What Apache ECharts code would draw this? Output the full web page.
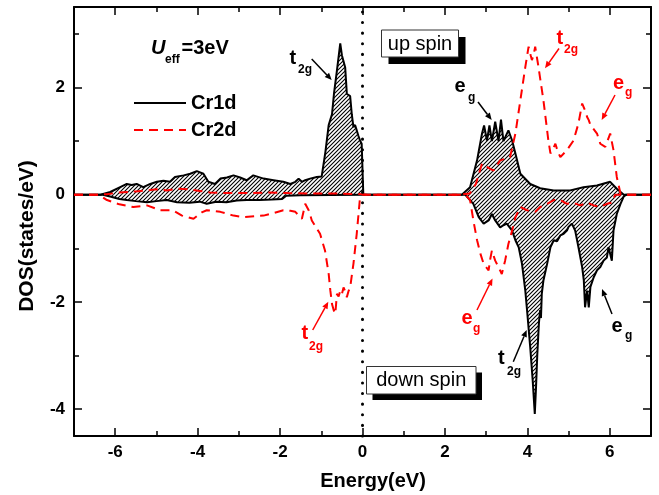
<!DOCTYPE html>
<html><head><meta charset="utf-8">
<script src="https://cdn.jsdelivr.net/npm/echarts@6/dist/echarts.min.js"></script>
<style>html,body{margin:0;padding:0;background:#fff}#c{width:659px;height:495px}</style>
</head><body><div id="c"></div>
<script>
// ---- data ----
const xTickLabels = [-6, -4, -2, 0, 2, 4, 6];
const xMinorTicks = [-5, -3, -1, 1, 3, 5];
const yTickLabels = [-4, -2, 0, 2];
const yMinorTicks = [-3, -1, 1, 3];
const seriesNames = ['Cr1d', 'Cr2d'];

const cr1dUp = [[-7,0],[-6.36,0],[-6.12,0.05],[-5.88,0.14],[-5.72,0.2],[-5.6,0.18],[-5.48,0.2],[-5.32,0.14],[-5.15,0.2],[-4.99,0.24],[-4.83,0.26],[-4.67,0.24],[-4.55,0.33],[-4.34,0.36],[-4.18,0.39],[-4.02,0.44],[-3.86,0.39],[-3.74,0.24],[-3.58,0.2],[-3.45,0.3],[-3.29,0.32],[-3.13,0.36],[-2.97,0.32],[-2.81,0.27],[-2.65,0.36],[-2.4,0.3],[-2.16,0.27],[-1.92,0.24],[-1.75,0.2],[-1.63,0.24],[-1.55,0.3],[-1.47,0.24],[-1.39,0.27],[-1.27,0.3],[-1.11,0.33],[-0.99,0.34],[-0.9,0.8],[-0.82,1.3],[-0.78,1.4],[-0.74,1.5],[-0.69,1.9],[-0.62,2.32],[-0.54,2.82],[-0.5,2.6],[-0.42,2.37],[-0.38,1.88],[-0.34,1.9],[-0.3,1.84],[-0.26,1.5],[-0.22,1.26],[-0.18,1.3],[-0.14,1.2],[-0.1,1.1],[-0.06,1.01],[-0.02,0.95],[0.02,0],[2.41,0],[2.61,0.14],[2.78,0.64],[2.9,1.14],[2.95,1.29],[3.02,1.01],[3.08,1.29],[3.14,1.0],[3.22,1.36],[3.3,1.0],[3.36,1.4],[3.42,1.0],[3.54,1.2],[3.63,1.01],[3.71,0.77],[3.83,0.39],[4.07,0.2],[4.31,0.12],[4.64,0.08],[5.04,0.08],[5.36,0.14],[5.69,0.17],[6.01,0.24],[6.17,0.11],[6.34,0],[7,0]];

const cr1dDown = [[-7,0],[-6.3,0],[-6.1,-0.04],[-5.9,-0.08],[-5.72,-0.1],[-5.5,-0.12],[-5.23,-0.14],[-5.0,-0.12],[-4.75,-0.1],[-4.5,-0.14],[-4.2,-0.15],[-3.95,-0.13],[-3.78,-0.17],[-3.55,-0.13],[-3.3,-0.14],[-3.05,-0.11],[-2.81,-0.1],[-2.5,-0.1],[-2.2,-0.09],[-1.95,-0.08],[-1.85,-0.02],[-1.5,-0.01],[0,0],[2.49,0],[2.69,-0.17],[2.82,-0.42],[2.94,-0.54],[3.06,-0.48],[3.14,-0.36],[3.22,-0.48],[3.34,-0.61],[3.42,-0.57],[3.5,-0.54],[3.63,-0.67],[3.71,-0.85],[3.79,-0.98],[3.87,-1.29],[3.95,-1.79],[4.0,-2.22],[4.07,-2.85],[4.13,-3.47],[4.18,-4.09],[4.21,-3.6],[4.24,-3.0],[4.28,-2.4],[4.31,-2.15],[4.33,-2.3],[4.35,-1.85],[4.39,-1.6],[4.48,-1.29],[4.56,-0.98],[4.64,-0.85],[4.72,-0.87],[4.8,-0.76],[4.88,-0.73],[4.96,-0.67],[5.0,-0.6],[5.08,-0.54],[5.16,-0.67],[5.24,-0.98],[5.33,-1.35],[5.37,-1.6],[5.4,-2.1],[5.45,-1.79],[5.49,-2.1],[5.53,-1.72],[5.61,-1.54],[5.69,-1.41],[5.77,-1.35],[5.85,-1.23],[5.93,-1.17],[5.97,-0.98],[6.05,-1.23],[6.09,-0.67],[6.17,-0.36],[6.26,-0.17],[6.34,-0.03],[6.4,0],[7,0]];

const cr2dUp = [[-7,0],[-6.4,0],[-6.2,0.01],[-5.9,0.04],[-5.5,0.06],[-5.23,0.08],[-5.0,0.1],[-4.75,0.08],[-4.5,0.11],[-4.2,0.1],[-3.95,0.07],[-3.7,0.04],[-3.3,0.03],[-2.8,0.03],[-2.3,0.04],[-1.8,0.03],[-1.2,0.02],[-0.6,0.02],[0,0.01],[0.1,0],[2.3,0],[2.6,0.02],[2.75,0.2],[2.9,0.58],[3.02,0.52],[3.1,0.48],[3.18,0.45],[3.34,0.64],[3.58,0.7],[3.71,1.14],[3.83,1.76],[3.95,2.38],[4.03,2.76],[4.08,2.6],[4.11,2.51],[4.15,2.6],[4.19,2.76],[4.27,2.38],[4.39,1.76],[4.51,1.01],[4.56,0.77],[4.62,0.85],[4.68,0.95],[4.74,0.8],[4.8,0.7],[4.96,0.83],[5.12,1.01],[5.24,1.33],[5.33,1.7],[5.4,1.57],[5.45,1.45],[5.49,1.39],[5.53,1.3],[5.57,1.26],[5.69,1.14],[5.77,0.95],[5.89,0.89],[6.01,1.14],[6.09,0.83],[6.17,0.33],[6.26,0.02],[6.35,0],[7,0]];

const cr2dDown = [[-7,0],[-6.4,0],[-6.2,-0.1],[-5.9,-0.18],[-5.56,-0.23],[-5.23,-0.2],[-4.91,-0.29],[-4.6,-0.29],[-4.38,-0.39],[-4.1,-0.45],[-3.9,-0.33],[-3.78,-0.29],[-3.45,-0.32],[-3.13,-0.39],[-2.89,-0.42],[-2.6,-0.4],[-2.4,-0.39],[-2.15,-0.34],[-1.92,-0.29],[-1.75,-0.3],[-1.63,-0.32],[-1.47,-0.45],[-1.39,-0.17],[-1.3,-0.3],[-1.23,-0.48],[-1.03,-0.73],[-0.91,-1.04],[-0.82,-1.48],[-0.78,-1.79],[-0.74,-2.04],[-0.7,-2.15],[-0.66,-2.22],[-0.62,-1.85],[-0.58,-1.9],[-0.54,-1.79],[-0.5,-1.85],[-0.46,-1.73],[-0.42,-1.8],[-0.38,-1.91],[-0.34,-1.8],[-0.3,-1.73],[-0.22,-1.29],[-0.14,-0.73],[-0.06,-0.05],[0,0],[2.5,0],[2.61,-0.1],[2.69,-0.48],[2.78,-0.85],[2.86,-1.1],[2.94,-1.29],[3.06,-1.41],[3.1,-1.2],[3.14,-1.04],[3.22,-1.23],[3.3,-1.35],[3.38,-1.48],[3.46,-1.23],[3.54,-0.92],[3.63,-0.67],[3.71,-0.42],[3.83,-0.23],[3.99,-0.29],[4.19,-0.32],[4.31,-0.23],[4.48,-0.17],[4.64,-0.1],[4.8,-0.1],[4.96,-0.17],[5.12,-0.15],[5.28,-0.2],[5.45,-0.15],[5.61,-0.2],[5.77,-0.23],[5.93,-0.17],[6.05,-0.15],[6.13,0],[7,0]];

// ---- styling ----
const FONT = '"Liberation Sans", Arial, sans-serif';
const RED = '#ff0000';

function hatchCanvas() {
  const c = document.createElement('canvas');
  c.width = 4; c.height = 4;
  const g = c.getContext('2d');
  g.strokeStyle = '#000'; g.lineWidth = 1.1;
  g.beginPath();
  g.moveTo(-1, 5); g.lineTo(5, -1);
  g.moveTo(-1, 1); g.lineTo(1, -1);
  g.moveTo(3, 5); g.lineTo(5, 3);
  g.stroke();
  return c;
}
const hatch = hatchCanvas();

function xAx(pos, ticks, len, showLine, showLabel) {
  return {
    type: 'value', min: -7, max: 7, position: pos, gridIndex: 0,
    axisLine: { show: showLine, onZero: false, lineStyle: { color: '#000', width: 2 } },
    axisTick: { show: true, inside: true, length: len, customValues: ticks, lineStyle: { color: '#000', width: 1.5 } },
    axisLabel: { show: showLabel, customValues: ticks, margin: 8, color: '#000', fontSize: 17, fontWeight: 'bold', fontFamily: FONT },
    splitLine: { show: false }
  };
}
function yAx(pos, ticks, len, showLine, showLabel) {
  return {
    type: 'value', min: -4.5, max: 3.5, position: pos, gridIndex: 0,
    axisLine: { show: showLine, onZero: false, lineStyle: { color: '#000', width: 2 } },
    axisTick: { show: true, inside: true, length: len, customValues: ticks, lineStyle: { color: '#000', width: 1.5 } },
    axisLabel: { show: showLabel, customValues: ticks, margin: 9, color: '#000', fontSize: 17, fontWeight: 'bold', fontFamily: FONT },
    splitLine: { show: false }
  };
}

function arrow(x1, y1, x2, y2, color) {
  const dx = x2 - x1, dy = y2 - y1, L = Math.hypot(dx, dy), ux = dx / L, uy = dy / L;
  const hl = 7, hw = 3;
  const bx = x2 - ux * hl, by = y2 - uy * hl;
  return [
    { type: 'line', silent: true, shape: { x1: x1, y1: y1, x2: bx, y2: by }, style: { stroke: color, lineWidth: 1.5 } },
    { type: 'polygon', silent: true, shape: { points: [[x2, y2], [bx - uy * hw, by + ux * hw], [bx + uy * hw, by - ux * hw]] }, style: { fill: color } }
  ];
}
function txt(x, y, text, font, color, align) {
  return { type: 'text', x: x, y: y, silent: true,
    style: { text: text, font: font, fill: color, align: align || 'left', verticalAlign: 'middle' } };
}
const MAIN = 'bold 20px ' + FONT;
const SUB = 'bold 12px ' + FONT;
function orbital(x, y, main, sx, sy, sub, color) {
  return [txt(x, y, main, MAIN, color), txt(sx, sy, sub, SUB, color)];
}
function spinBox(x, y, w, h, off, label) {
  return [
    { type: 'rect', silent: true, shape: { x: x + off, y: y + off, width: w, height: h }, style: { fill: '#000' } },
    { type: 'rect', silent: true, shape: { x: x, y: y, width: w, height: h }, style: { fill: '#fff', stroke: '#333', lineWidth: 1 } },
    txt(x + w / 2, y + h / 2 + 0.5, label, '20px ' + FONT, '#000', 'center')
  ];
}

const graphics = [].concat(
  [txt(373, 481, 'Energy(eV)', 'bold 20px ' + FONT, '#000', 'center')],
  [{ type: 'text', x: 27, y: 236, rotation: Math.PI / 2, silent: true,
     style: { text: 'DOS(states/eV)', font: 'bold 21px ' + FONT, fill: '#000', align: 'center', verticalAlign: 'middle' } }],
  [txt(151, 48.4, 'U', 'italic bold 20px ' + FONT, '#000'),
   txt(165, 59.8, 'eff', SUB, '#000'),
   txt(181.5, 48.4, '=3eV', MAIN, '#000')],
  spinBox(381.5, 30, 77, 27, 7, 'up spin'),
  spinBox(366.5, 366.5, 109.5, 27.5, 6, 'down spin'),
  orbital(289.5, 58.4, 't', 298, 69.8, '2g', '#000'), arrow(311.7, 59, 331.7, 80, '#000'),
  orbital(454.5, 86.7, 'e', 468, 97.2, 'g', '#000'), arrow(478, 102, 491.7, 120, '#000'),
  orbital(556.5, 38.4, 't', 564, 49.6, '2g', RED), arrow(559, 48.5, 545, 68.3, RED),
  orbital(613, 83.4, 'e', 625, 92.2, 'g', RED), arrow(615, 95, 601.7, 120, RED),
  orbital(301.5, 333.4, 't', 309, 346.3, '2g', RED), arrow(312.7, 330, 328.3, 301.7, RED),
  orbital(461.5, 318.4, 'e', 473, 328.9, 'g', RED), arrow(477, 310, 492.5, 278.5, RED),
  orbital(498, 358.4, 't', 507, 371.3, '2g', '#000'), arrow(513.3, 361.7, 526.7, 330, '#000'),
  orbital(611.5, 326.7, 'e', 625, 335.5, 'g', '#000'), arrow(612, 314, 602, 289, '#000')
);

const blackSeries = (name, data, withMark) => {
  const s = {
    type: 'line', name: name, data: data, xAxisIndex: 0, yAxisIndex: 0,
    symbol: 'none', showSymbol: false, smooth: false, z: 2, silent: true,
    emphasis: { disabled: true },
    lineStyle: { color: '#000', width: 2 }, itemStyle: { color: '#000' },
    areaStyle: { color: { image: hatch, repeat: 'repeat' }, opacity: 1 }
  };
  if (withMark) {
    s.markLine = { silent: true, symbol: ['none', 'none'], label: { show: false }, animation: false,
      lineStyle: { color: '#000', width: 3, type: [0.1, 10.5], cap: 'round' },
      emphasis: { disabled: true }, data: [{ xAxis: 0 }] };
  }
  return s;
};
const redSeries = (name, data) => ({
  type: 'line', name: name, data: data, xAxisIndex: 0, yAxisIndex: 0,
  symbol: 'none', showSymbol: false, smooth: false, z: 3, silent: true,
  emphasis: { disabled: true },
  lineStyle: { color: RED, width: 2, type: [9, 6] }, itemStyle: { color: RED }
});

const option = {
  animation: false,
  backgroundColor: '#fff',
  grid: { left: 74, right: 8, top: 7, bottom: 59, containLabel: false },
  xAxis: [
    xAx('bottom', xTickLabels, 8, true, true),
    xAx('bottom', xMinorTicks, 5, false, false),
    xAx('top', xTickLabels, 8, true, false),
    xAx('top', xMinorTicks, 5, false, false)
  ],
  yAxis: [
    yAx('left', yTickLabels, 8, true, true),
    yAx('left', yMinorTicks, 5, false, false),
    yAx('right', yTickLabels, 8, true, false),
    yAx('right', yMinorTicks, 5, false, false)
  ],
  legend: {
    data: seriesNames, orient: 'vertical', left: 128, top: 88, itemGap: 7,
    itemWidth: 52, itemHeight: 14, selectedMode: false,
    itemStyle: { opacity: 0, borderWidth: 0 },
    textStyle: { fontSize: 20, fontWeight: 'bold', fontFamily: FONT, color: '#000' }
  },
  series: [
    blackSeries(seriesNames[0], cr1dUp, true),
    blackSeries(seriesNames[0], cr1dDown, false),
    redSeries(seriesNames[1], cr2dUp),
    redSeries(seriesNames[1], cr2dDown)
  ],
  graphic: { elements: graphics }
};

const chart = echarts.init(document.getElementById('c'), null, { renderer: 'canvas' });
chart.setOption(option);
</script>
</body></html>
